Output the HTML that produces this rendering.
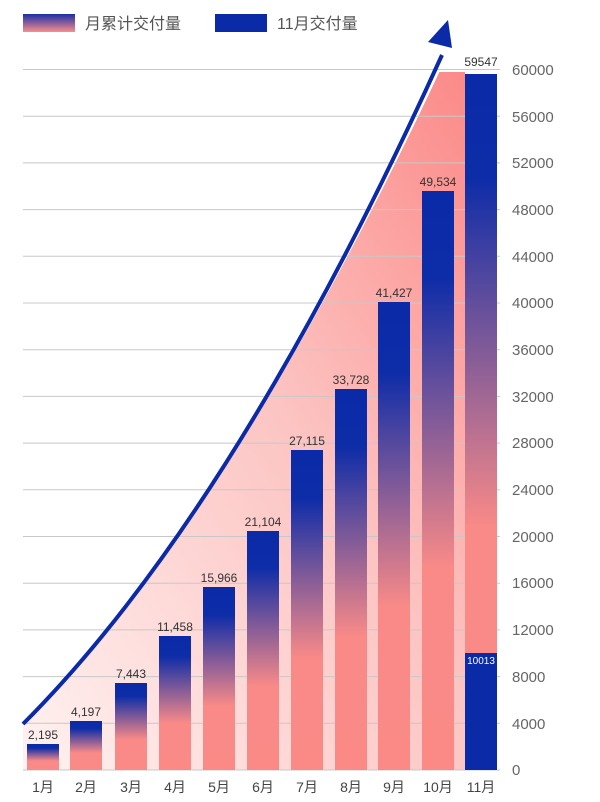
<!DOCTYPE html>
<html><head><meta charset="utf-8"><style>
body{margin:0;background:#fff;}
svg{display:block;font-family:"Liberation Sans","Noto Sans CJK SC",sans-serif;}
</style></head><body>
<svg width="600" height="802" viewBox="0 0 600 802">
<defs>
<linearGradient id="leg" x1="0" y1="0" x2="0" y2="1"><stop offset="0" stop-color="#1a2fa8"/><stop offset="1" stop-color="#fa8d8a"/></linearGradient>
<linearGradient id="bar" x1="0" y1="0" x2="0" y2="1"><stop offset="0" stop-color="#0a2aa8"/><stop offset="0.15" stop-color="#0d2ca8"/><stop offset="0.65" stop-color="#f98a88"/><stop offset="1" stop-color="#fb8a86"/></linearGradient>
<linearGradient id="area" x1="1" y1="0" x2="0" y2="1"><stop offset="0" stop-color="#fb8a88"/><stop offset="0.45" stop-color="#fcc4c2"/><stop offset="1" stop-color="#fff2f1"/></linearGradient>
<clipPath id="cp"><path d="M23,724 Q234,513 445,60 L465,30 L465,770 L23,770 Z"/></clipPath>
</defs>
<rect x="23" y="14" width="52" height="18" fill="url(#leg)"/>
<text x="85" y="29" font-size="16" fill="#555">月累计交付量</text>
<rect x="215" y="14" width="52" height="18" fill="#0a2aa8"/>
<text x="277" y="29" font-size="16" fill="#555">11月交付量</text>
<g clip-path="url(#cp)"><rect x="23" y="72" width="442" height="698" fill="url(#area)"/></g>
<g stroke="#c8c8c8" stroke-width="1">
<line x1="23" x2="500" y1="69.5" y2="69.5"/><line x1="23" x2="500" y1="116.2" y2="116.2"/><line x1="23" x2="500" y1="162.9" y2="162.9"/><line x1="23" x2="500" y1="209.6" y2="209.6"/><line x1="23" x2="500" y1="256.3" y2="256.3"/><line x1="23" x2="500" y1="303" y2="303"/><line x1="23" x2="500" y1="349.7" y2="349.7"/><line x1="23" x2="500" y1="396.4" y2="396.4"/><line x1="23" x2="500" y1="443.1" y2="443.1"/><line x1="23" x2="500" y1="489.8" y2="489.8"/><line x1="23" x2="500" y1="536.5" y2="536.5"/><line x1="23" x2="500" y1="583.2" y2="583.2"/><line x1="23" x2="500" y1="629.9" y2="629.9"/><line x1="23" x2="500" y1="676.6" y2="676.6"/><line x1="23" x2="500" y1="723.3" y2="723.3"/><line x1="23" x2="500" y1="770" y2="770"/>
</g>
<g font-size="15" fill="#666">
<text x="512" y="75">60000</text><text x="512" y="122">56000</text><text x="512" y="168">52000</text><text x="512" y="215">48000</text><text x="512" y="262">44000</text><text x="512" y="308">40000</text><text x="512" y="355">36000</text><text x="512" y="402">32000</text><text x="512" y="448">28000</text><text x="512" y="495">24000</text><text x="512" y="542">20000</text><text x="512" y="588">16000</text><text x="512" y="635">12000</text><text x="512" y="682">8000</text><text x="512" y="729">4000</text><text x="512" y="775">0</text>
</g>
<g fill="url(#bar)">
<rect x="27" y="744" width="32" height="26"/>
<rect x="70" y="721" width="32" height="49"/>
<rect x="115" y="683" width="32" height="87"/>
<rect x="159" y="636" width="32" height="134"/>
<rect x="203" y="587" width="32" height="183"/>
<rect x="247" y="531" width="32" height="239"/>
<rect x="291" y="450" width="32" height="320"/>
<rect x="335" y="389" width="32" height="381"/>
<rect x="378" y="302" width="32" height="468"/>
<rect x="422" y="191" width="32" height="579"/>
<rect x="465" y="74" width="32" height="696"/>
</g>
<rect x="465" y="653" width="32" height="117" fill="#0a2aa8"/>
<text x="481" y="664" font-size="10" fill="#fff" text-anchor="middle">10013</text>
<g font-size="12" fill="#333" text-anchor="middle">
<text x="43" y="739">2,195</text><text x="86" y="716">4,197</text><text x="131" y="678">7,443</text><text x="175" y="631">11,458</text><text x="219" y="582">15,966</text><text x="263" y="526">21,104</text><text x="307" y="445">27,115</text><text x="351" y="384">33,728</text><text x="394" y="297">41,427</text><text x="438" y="186">49,534</text><text x="481" y="66">59547</text>
</g>
<path d="M23,724 Q234,513 442,55" fill="none" stroke="#0a2aa8" stroke-width="4"/>
<polygon points="448,20 452,48 428,42" fill="#0a2aa8"/>
<g font-size="14" fill="#444" text-anchor="middle">
<text x="43" y="792">1月</text><text x="86" y="792">2月</text><text x="131" y="792">3月</text><text x="175" y="792">4月</text><text x="219" y="792">5月</text><text x="263" y="792">6月</text><text x="307" y="792">7月</text><text x="351" y="792">8月</text><text x="394" y="792">9月</text><text x="438" y="792">10月</text><text x="481" y="792">11月</text>
</g>
</svg>
</body></html>
